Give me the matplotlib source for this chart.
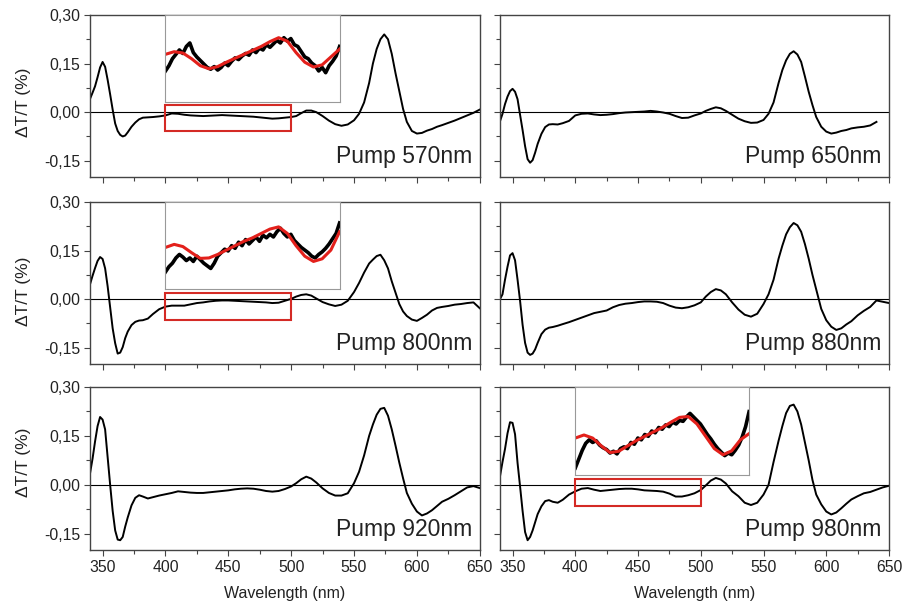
# transient transmission spectra, 6 pump wavelengths, 3x2 panels
import numpy as np
import matplotlib
matplotlib.use('Agg')
import matplotlib.pyplot as plt
from matplotlib.patches import Rectangle
from matplotlib.ticker import MultipleLocator, FuncFormatter

plt.rcParams['font.family'] = ['Liberation Sans', 'DejaVu Sans']

#%% data (nm, dT/T in %)
wl = [340, 342, 344, 346, 348, 350, 352, 354, 356, 358,
      360, 362, 364, 366, 368, 370, 373, 376, 379, 382,
      386, 390, 395, 400, 405, 410, 415, 420, 425, 430,
      435, 440, 445, 450, 455, 460, 465, 470, 475, 480,
      485, 490, 495, 500, 504, 508, 512, 516, 520, 525,
      530, 535, 540, 545, 550, 554, 558, 562, 565, 568,
      571, 574, 577, 580, 583, 586, 589, 592, 596, 600,
      604, 608, 612, 616, 620, 625, 630, 635, 640, 645,
      650]

spec_570 = [0.041, 0.060, 0.080, 0.108, 0.138, 0.155, 0.140, 0.100, 0.055, 0.008,
            -0.035, -0.058, -0.070, -0.075, -0.072, -0.062, -0.045, -0.032, -0.022, -0.017,
            -0.016, -0.015, -0.013, -0.010, -0.004, -0.005, -0.008, -0.010, -0.011, -0.012,
            -0.011, -0.010, -0.009, -0.010, -0.011, -0.012, -0.013, -0.014, -0.016, -0.018,
            -0.020, -0.019, -0.017, -0.015, -0.012, -0.003, 0.005, 0.005, 0.000, -0.012,
            -0.026, -0.037, -0.042, -0.038, -0.025, -0.005, 0.030, 0.090, 0.150, 0.195,
            0.225, 0.240, 0.225, 0.180, 0.120, 0.065, 0.010, -0.030, -0.058, -0.066,
            -0.064, -0.057, -0.052, -0.045, -0.040, -0.033, -0.026, -0.018, -0.010, -0.002,
            0.008]

spec_650 = [-0.028, -0.005, 0.025, 0.048, 0.065, 0.072, 0.063, 0.040, -0.008, -0.055,
            -0.105, -0.145, -0.156, -0.148, -0.125, -0.098, -0.067, -0.046, -0.038, -0.037,
            -0.038, -0.034, -0.027, -0.010, -0.005, -0.004, -0.007, -0.009, -0.008, -0.006,
            -0.003, -0.001, 0.000, 0.001, 0.002, 0.004, 0.002, -0.001, -0.005, -0.012,
            -0.018, -0.017, -0.010, -0.004, 0.004, 0.010, 0.015, 0.012, 0.004, -0.008,
            -0.020, -0.028, -0.033, -0.032, -0.024, -0.005, 0.030, 0.090, 0.130, 0.160,
            0.180, 0.188, 0.178, 0.155, 0.110, 0.063, 0.022, -0.015, -0.045, -0.060,
            -0.066, -0.063, -0.058, -0.055, -0.050, -0.047, -0.045, -0.041, -0.030, np.nan,
            np.nan]

spec_800 = [0.046, 0.072, 0.096, 0.118, 0.130, 0.124, 0.095, 0.040, -0.025, -0.090,
            -0.136, -0.168, -0.165, -0.148, -0.120, -0.100, -0.080, -0.070, -0.066, -0.065,
            -0.060, -0.046, -0.031, -0.023, -0.020, -0.020, -0.020, -0.016, -0.012, -0.010,
            -0.007, -0.005, -0.004, -0.004, -0.005, -0.006, -0.007, -0.008, -0.009, -0.010,
            -0.012, -0.011, -0.005, 0.001, 0.008, 0.013, 0.015, 0.011, 0.002, -0.009,
            -0.016, -0.021, -0.017, -0.005, 0.022, 0.050, 0.082, 0.110, 0.122, 0.133,
            0.137, 0.120, 0.095, 0.055, 0.020, -0.015, -0.038, -0.052, -0.063, -0.067,
            -0.058, -0.048, -0.035, -0.027, -0.024, -0.021, -0.017, -0.015, -0.012, -0.010,
            -0.028]

spec_880 = [0.000, 0.015, 0.060, 0.100, 0.135, 0.142, 0.120, 0.060, -0.005, -0.079,
            -0.135, -0.165, -0.172, -0.168, -0.155, -0.135, -0.108, -0.094, -0.088, -0.086,
            -0.082, -0.077, -0.071, -0.064, -0.057, -0.050, -0.043, -0.039, -0.035, -0.025,
            -0.018, -0.014, -0.012, -0.009, -0.007, -0.007, -0.008, -0.012, -0.020, -0.026,
            -0.028, -0.025, -0.019, -0.010, 0.008, 0.022, 0.031, 0.027, 0.015, -0.010,
            -0.032, -0.048, -0.054, -0.045, -0.015, 0.015, 0.060, 0.125, 0.165, 0.200,
            0.222, 0.235, 0.228, 0.208, 0.170, 0.125, 0.075, 0.030, -0.030, -0.065,
            -0.085, -0.095, -0.090, -0.078, -0.068, -0.050, -0.036, -0.024, -0.004, -0.008,
            -0.012]

spec_920 = [0.035, 0.080, 0.133, 0.180, 0.208, 0.200, 0.170, 0.085, 0.000, -0.080,
            -0.140, -0.168, -0.170, -0.160, -0.128, -0.100, -0.063, -0.040, -0.032, -0.036,
            -0.042, -0.038, -0.033, -0.029, -0.025, -0.020, -0.022, -0.024, -0.025, -0.025,
            -0.023, -0.021, -0.019, -0.017, -0.014, -0.012, -0.011, -0.012, -0.015, -0.019,
            -0.021, -0.019, -0.013, -0.005, 0.005, 0.017, 0.025, 0.019, 0.007, -0.011,
            -0.025, -0.033, -0.033, -0.026, 0.005, 0.040, 0.090, 0.150, 0.185, 0.215,
            0.233, 0.236, 0.212, 0.170, 0.120, 0.068, 0.020, -0.025, -0.058, -0.082,
            -0.094, -0.088, -0.078, -0.065, -0.052, -0.043, -0.032, -0.020, -0.008, -0.004,
            -0.010]

spec_980 = [0.026, 0.070, 0.110, 0.158, 0.192, 0.190, 0.155, 0.067, -0.005, -0.080,
            -0.145, -0.170, -0.160, -0.140, -0.115, -0.090, -0.066, -0.050, -0.047, -0.052,
            -0.055, -0.046, -0.030, -0.020, -0.012, -0.010, -0.015, -0.019, -0.017, -0.015,
            -0.013, -0.012, -0.012, -0.014, -0.017, -0.018, -0.019, -0.021, -0.027, -0.036,
            -0.036, -0.032, -0.026, -0.016, -0.002, 0.013, 0.021, 0.016, 0.004, -0.020,
            -0.035, -0.055, -0.062, -0.055, -0.030, 0.000, 0.070, 0.135, 0.180, 0.220,
            0.242, 0.246, 0.225, 0.185, 0.130, 0.075, 0.015, -0.030, -0.060, -0.082,
            -0.091, -0.085, -0.072, -0.058, -0.045, -0.035, -0.026, -0.022, -0.015, -0.008,
            -0.003]

#%% insets: zoom of 400-500 nm, arbitrary units (0 = bottom of inset, 1 = top)
ins_wl_raw = np.arange(400, 501, 2)
ins_wl_fit = np.arange(400, 501, 5)

raw_570 = [0.36, 0.42, 0.50, 0.55, 0.60, 0.56, 0.64, 0.68, 0.57, 0.52,
           0.48, 0.44, 0.40, 0.38, 0.41, 0.37, 0.40, 0.45, 0.42, 0.47,
           0.51, 0.49, 0.53, 0.56, 0.54, 0.60, 0.57, 0.62, 0.60, 0.66,
           0.63, 0.67, 0.71, 0.68, 0.74, 0.70, 0.73, 0.66, 0.64, 0.58,
           0.52, 0.50, 0.45, 0.42, 0.36, 0.40, 0.34, 0.42, 0.47, 0.53,
           0.64]
fit_570 = [0.55, 0.58, 0.565, 0.50, 0.42, 0.385, 0.41, 0.46, 0.505, 0.55,
           0.595, 0.64, 0.695, 0.74, 0.70, 0.57, 0.46, 0.405, 0.43, 0.52,
           0.61]

raw_800 = [0.20, 0.26, 0.30, 0.36, 0.40, 0.37, 0.33, 0.36, 0.32, 0.38,
           0.34, 0.30, 0.27, 0.24, 0.30, 0.38, 0.42, 0.46, 0.44, 0.50,
           0.47, 0.54, 0.50, 0.57, 0.52, 0.56, 0.60, 0.55, 0.62, 0.59,
           0.63, 0.60, 0.66, 0.70, 0.64, 0.60, 0.63, 0.56, 0.52, 0.48,
           0.45, 0.42, 0.38, 0.36, 0.40, 0.43, 0.47, 0.52, 0.58, 0.64,
           0.76]
fit_800 = [0.48, 0.515, 0.49, 0.42, 0.355, 0.36, 0.40, 0.45, 0.50, 0.55,
           0.59, 0.64, 0.69, 0.715, 0.64, 0.50, 0.38, 0.32, 0.35, 0.45,
           0.66]

raw_980 = [0.08, 0.18, 0.28, 0.36, 0.40, 0.37, 0.39, 0.34, 0.31, 0.29,
           0.25, 0.27, 0.24, 0.30, 0.32, 0.30, 0.37, 0.35, 0.42, 0.40,
           0.46, 0.44, 0.50, 0.48, 0.54, 0.52, 0.57, 0.55, 0.60, 0.58,
           0.62, 0.61, 0.66, 0.70, 0.66, 0.62, 0.58, 0.52, 0.46, 0.41,
           0.35, 0.30, 0.26, 0.22, 0.25, 0.23, 0.28, 0.34, 0.43, 0.55,
           0.72]
fit_980 = [0.42, 0.455, 0.42, 0.33, 0.255, 0.27, 0.33, 0.39, 0.44, 0.49,
           0.54, 0.60, 0.655, 0.665, 0.58, 0.44, 0.30, 0.23, 0.275, 0.40,
           0.47]

# red box (y bottom, y top) in main-panel units
box_570 = (-0.059, 0.021)
box_800 = (-0.064, 0.020)
box_980 = (-0.064, 0.019)

#%% layout
fig = plt.figure(figsize=(9.03, 6.03), dpi=100)
col_x = [0.0997, 0.5537]
col_w = [0.4316, 0.4308]
row_y = [0.7065, 0.3964, 0.0879]
row_h = [0.2687, 0.2687, 0.2703]
ylab_y = [0.46, 0.45, 0.54]

panels = [
    (0, 0, spec_570, 'Pump 570nm', (raw_570, fit_570, box_570)),
    (0, 1, spec_650, 'Pump 650nm', None),
    (1, 0, spec_800, 'Pump 800nm', (raw_800, fit_800, box_800)),
    (1, 1, spec_880, 'Pump 880nm', None),
    (2, 0, spec_920, 'Pump 920nm', None),
    (2, 1, spec_980, 'Pump 980nm', (raw_980, fit_980, box_980)),
]

def comma_fmt(v, p):
    if abs(v) < 1e-9:
        v = 0.0
    return ('%.2f' % v).replace('.', ',')

txt_col = '#222222'
spine_col = '#444444'

for row, col, spec, label, ins in panels:
    ax = fig.add_axes([col_x[col], row_y[row], col_w[col], row_h[row]])
    ax.plot(wl, spec, color='k', lw=1.4)
    ax.axhline(0, color='k', lw=0.8)
    ax.set_xlim(340, 650)
    ax.set_ylim(-0.2, 0.3)
    ax.xaxis.set_major_locator(MultipleLocator(50))
    ax.xaxis.set_minor_locator(MultipleLocator(25))
    ax.yaxis.set_major_locator(MultipleLocator(0.15))
    ax.yaxis.set_minor_locator(MultipleLocator(0.075))
    ax.tick_params(which='both', direction='out', length=4, width=0.8,
                   color=spine_col, labelsize=11.3, labelcolor=txt_col, pad=3)
    ax.tick_params(which='minor', length=3)
    for s in ax.spines.values():
        s.set_color(spine_col)
        s.set_linewidth(1.0)

    if col == 0:
        ax.yaxis.set_major_formatter(FuncFormatter(comma_fmt))
        ax.set_ylabel('ΔT/T (%)', fontsize=12.5, color=txt_col)
        ax.yaxis.set_label_coords(-0.152, ylab_y[row])
    else:
        ax.tick_params(labelleft=False)
    if row < 2:
        ax.tick_params(labelbottom=False)
    else:
        ax.set_xlabel('Wavelength (nm)', fontsize=11.5, color=txt_col, labelpad=8)

    ax.text(0.98, 0.085, label, transform=ax.transAxes, ha='right',
            va='baseline', fontsize=16.5, color=txt_col)

    if ins is not None:
        raw, fit, box = ins
        ax.add_patch(Rectangle((400, box[0]), 100, box[1] - box[0],
                               fill=False, edgecolor='#d42a25', lw=1.5, zorder=4))
        ia = ax.inset_axes([400, 0.03, 138.5, 0.27], transform=ax.transData)
        ia.plot(ins_wl_raw, raw, color='k', lw=2.6)
        ia.plot(ins_wl_fit, fit, color='#e3201b', lw=2.2)
        ia.set_xlim(400, 500)
        ia.set_ylim(0, 1)
        ia.set_xticks([])
        ia.set_yticks([])
        for s in ia.spines.values():
            s.set_color('#999999')
            s.set_linewidth(0.8)

plt.savefig('out.png', dpi=100)
